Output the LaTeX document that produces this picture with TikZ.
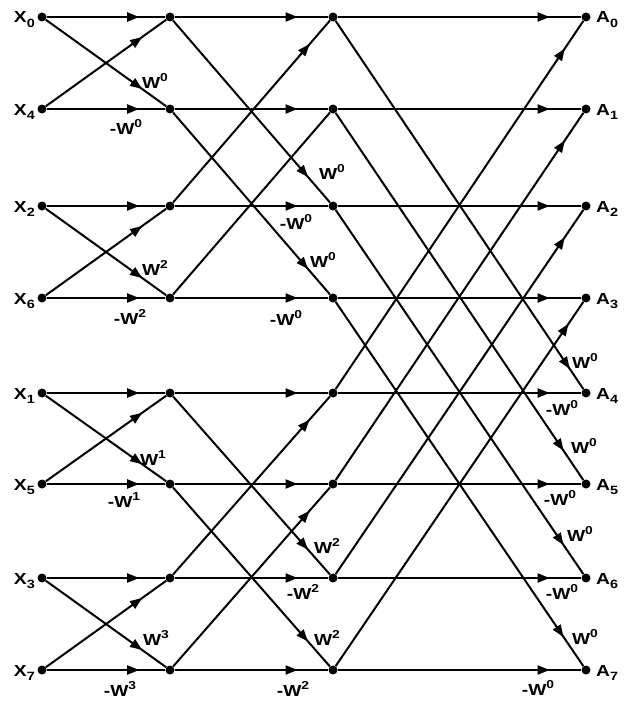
\documentclass[tikz,border=0pt]{standalone}
\usepackage{fontspec}
\setmainfont{Liberation Sans}[FakeStretch=1.2]
\usetikzlibrary{arrows.meta,decorations.markings}
\newcommand\Wp[1]{W\raisebox{0.75ex}{\fontsize{11.5}{11.5}\selectfont #1}}
\newcommand\Xs[1]{X\raisebox{-0.5ex}{\fontsize{12}{12}\selectfont #1}}
\newcommand\As[1]{A\raisebox{-0.5ex}{\fontsize{12}{12}\selectfont #1}}
\tikzset{
  dot/.style={circle,fill=black,inner sep=0pt,minimum size=9pt},
  lab/.style={font=\fontsize{16}{16}\selectfont\bfseries,inner sep=0pt},
  edge/.style={line width=2pt},
  arr/.style={edge,postaction={decorate,decoration={markings,
      mark=at position #1 with {\arrow{Triangle[length=12pt,width=9pt]}}}}},
}
\begin{document}
\begin{tikzpicture}[x=1pt,y=-1pt]
\useasboundingbox (0,0) rectangle (627,701);
\foreach \r/\y/\xl in {0/17/0,1/109/4,2/206/2,3/298/6,4/393/1,5/484/5,6/578/3,7/670/7}{
  \node[dot] (i\r) at (42,\y) {};
  \node[dot] (a\r) at (170,\y) {};
  \node[dot] (b\r) at (333,\y) {};
  \node[dot] (o\r) at (586,\y) {};
  \node[lab,anchor=base east] (xl\r) at (35,\y+6) {\Xs{\xl}};
  \node[lab,anchor=base west] (al\r) at (596,\y+6) {\As{\r}};
}
% stage 1
\foreach \p/\q in {0/1,2/3,4/5,6/7}{
  \draw[arr=0.78] (i\p) -- (a\p);
  \draw[arr=0.80] (i\q) -- (a\p);
  \draw[arr=0.80] (i\p) -- (a\q);
  \draw[arr=0.78] (i\q) -- (a\q);
}
% stage 2
\foreach \p/\q in {0/2,1/3,4/6,5/7}{
  \draw[arr=0.80] (a\p) -- (b\p);
  \draw[arr=0.86] (a\p) -- (b\q);
  \draw[arr=0.80] (a\q) -- (b\q);
}
\draw[arr=0.87] (a2) -- (b0);
\draw[edge] (a3) -- (b1);
\draw[arr=0.87] (a6) -- (b4);
\draw[arr=0.87] (a7) -- (b5);
% stage 3
\foreach \p/\q in {0/4,1/5,2/6,3/7}{
  \draw[arr=0.87] (b\p) -- (o\p);
  \draw[arr=0.87] (b\q) -- (o\q);
}
\draw[arr=0.945] (b0) -- (o4);
\draw[arr=0.92] (b1) -- (o5);
\draw[arr=0.92] (b2) -- (o6);
\draw[arr=0.92] (b3) -- (o7);
\draw[arr=0.925] (b4) -- (o0);
\draw[arr=0.925] (b5) -- (o1);
\draw[arr=0.925] (b6) -- (o2);
\draw[arr=0.94] (b7) -- (o3);
% stage 1 labels
\node[lab] (l1) at (155,81) {\Wp{0}};
\node[lab] (l2) at (126,127) {-\Wp{0}};
\node[lab] (l3) at (155,268) {\Wp{2}};
\node[lab] (l4) at (130,317) {-\Wp{2}};
\node[lab] (l5) at (153,458) {\Wp{1}};
\node[lab] (l6) at (124,500) {-\Wp{1}};
\node[lab] (l7) at (156,638) {\Wp{3}};
\node[lab] (l8) at (120,689) {-\Wp{3}};
% stage 2 labels
\node[lab] (m1) at (332,172) {\Wp{0}};
\node[lab] (m2) at (296,222) {-\Wp{0}};
\node[lab] (m3) at (323,260) {\Wp{0}};
\node[lab] (m4) at (286,318) {-\Wp{0}};
\node[lab] (m5) at (327,546) {\Wp{2}};
\node[lab] (m6) at (303,592) {-\Wp{2}};
\node[lab] (m7) at (327,638) {\Wp{2}};
\node[lab] (m8) at (293,689) {-\Wp{2}};
% stage 3 labels
\node[lab] (n1) at (585,361) {\Wp{0}};
\node[lab] (n2) at (562,408) {-\Wp{0}};
\node[lab] (n3) at (584,446) {\Wp{0}};
\node[lab] (n4) at (560,498) {-\Wp{0}};
\node[lab] (n5) at (580,534) {\Wp{0}};
\node[lab] (n6) at (562,592) {-\Wp{0}};
\node[lab] (n7) at (585,637) {\Wp{0}};
\node[lab] (n8) at (538,688) {-\Wp{0}};
\end{tikzpicture}
\end{document}
